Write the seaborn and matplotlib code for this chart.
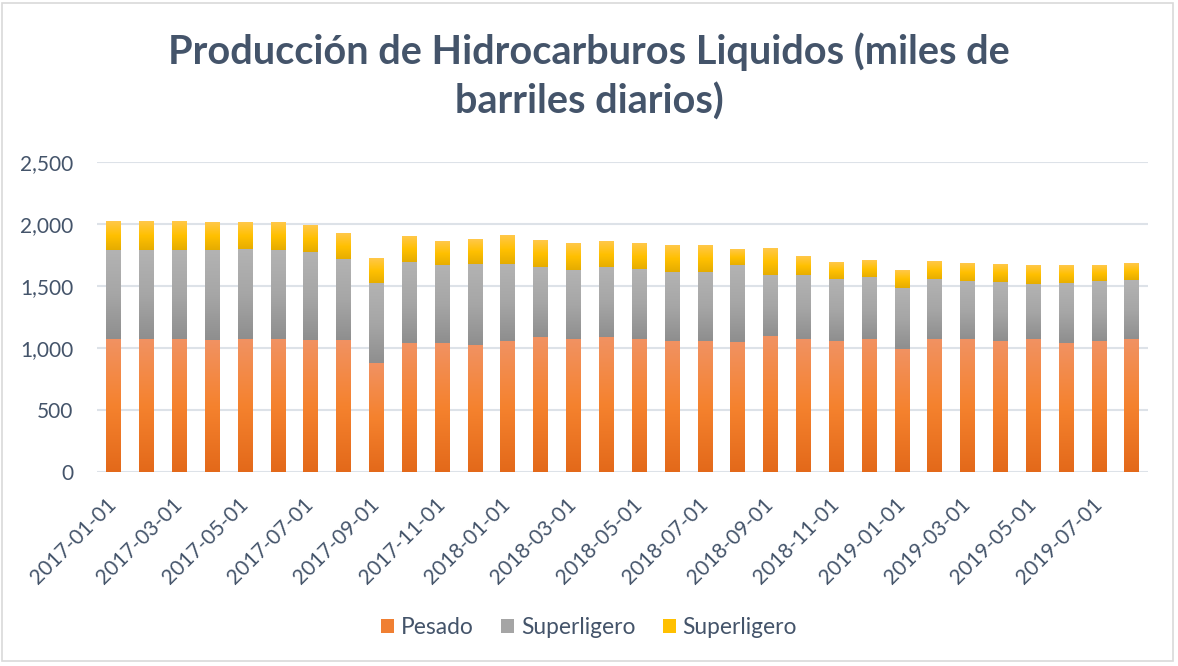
import numpy as np
import pandas as pd
import matplotlib
matplotlib.use("Agg")
import matplotlib.pyplot as plt
import seaborn as sns
from matplotlib.colors import LinearSegmentedColormap
from matplotlib.patches import Rectangle, Patch

# datos (miles de barriles diarios)
fechas = pd.date_range("2017-01-01", "2019-08-01", freq="MS").strftime("%Y-%m-%d").tolist()

pesado = [1071, 1066, 1066, 1058, 1071, 1071, 1058, 1058, 873, 1039,
          1039, 1018, 1055, 1082, 1066, 1082, 1071, 1055, 1055, 1047,
          1090, 1066, 1050, 1066, 991, 1066, 1066, 1050, 1071, 1039,
          1050, 1066]
superligero_gris = [716, 721, 721, 729, 721, 716, 713, 654, 647, 652,
                    625, 657, 620, 566, 561, 566, 561, 556, 556, 617,
                    494, 518, 502, 502, 491, 486, 470, 480, 443, 481,
                    486, 481]
superligero_amarillo = [230, 230, 230, 222, 225, 222, 214, 216, 208, 205,
                        200, 197, 229, 224, 213, 216, 216, 213, 213, 136,
                        224, 160, 144, 144, 142, 152, 152, 142, 150, 152,
                        136, 133]

nombres = ["Pesado", "Superligero", "Superligero"]
gradientes = [
    ["#F19262", "#F5822E", "#E3691A"],
    ["#B3B3B3", "#A6A6A6", "#8E8E8E"],
    ["#FFC84A", "#FFC000", "#E5AC00"],
]
colores_leyenda = ["#F07F32", "#A5A5A5", "#FFC000"]
texto = "#44546A"

df = pd.DataFrame({
    "fecha": fechas,
    "pesado": pesado,
    "gris": superligero_gris,
    "amarillo": superligero_amarillo,
})
df["nivel1"] = df["pesado"]
df["nivel2"] = df["nivel1"] + df["gris"]
df["nivel3"] = df["nivel2"] + df["amarillo"]

sns.set_style("white")
plt.rcParams["font.family"] = ["Lato", "DejaVu Sans"]

fig = plt.figure(figsize=(11.78, 6.66), dpi=100)
ax = fig.add_axes([0.0823, 0.2913, 0.8922, 0.4655])

# barras acumuladas, de la mas alta a la mas baja
capas = [("nivel3", "nivel2", 2), ("nivel2", "nivel1", 1), ("nivel1", None, 0)]
for z, (col_sup, col_inf, k) in enumerate(capas):
    antes = len(ax.patches)
    sns.barplot(data=df, x="fecha", y=col_sup, order=fechas, width=0.43,
                color=colores_leyenda[k], ax=ax, zorder=2 + z)
    nuevos = ax.patches[antes:]
    cmap = LinearSegmentedColormap.from_list("g%d" % k, gradientes[k][::-1])
    grad = np.linspace(0, 1, 256).reshape(-1, 1)
    for i, p in enumerate(nuevos):
        x0 = p.get_x()
        x1 = x0 + p.get_width()
        y1 = df[col_sup].iloc[i]
        y0 = 0 if col_inf is None else df[col_inf].iloc[i]
        ax.imshow(grad, extent=[x0, x1, y0, y1], origin="lower", cmap=cmap,
                  aspect="auto", zorder=2 + z, interpolation="bilinear")
        p.set_visible(False)

ax.set_xlim(-0.5, len(fechas) - 0.5)
ax.set_ylim(0, 2500)
ax.set_yticks([0, 500, 1000, 1500, 2000, 2500])
ax.set_yticklabels(["{:,}".format(v) for v in [0, 500, 1000, 1500, 2000, 2500]])
ax.yaxis.grid(True, color="#DDE2E8", lw=1.5)
ax.set_axisbelow(True)
ax.set_xlabel("")
ax.set_ylabel("")
for s in ax.spines.values():
    s.set_visible(False)

ax.set_xticks(range(0, len(fechas), 2))
ax.set_xticklabels(fechas[::2], rotation=45, ha="right", va="center",
                   rotation_mode="anchor")
ax.tick_params(axis="x", length=0, pad=21, labelsize=15, labelcolor=texto)
ax.tick_params(axis="y", length=0, pad=17, labelsize=15, labelcolor=texto)

fig.text(0.5, 1 - 76.5 / 666,
         "Producción de Hidrocarburos Liquidos (miles de\nbarriles diarios)",
         ha="center", va="center", fontsize=28.5, fontweight="bold", color=texto,
         linespacing=1.35)

handles = [Patch(facecolor=c, edgecolor="none") for c in colores_leyenda]
fig.legend(handles, nombres, loc="center", bbox_to_anchor=(0.5, 1 - 628 / 666),
           ncol=3, frameon=False, fontsize=16.4, labelcolor=texto,
           handlelength=0.57, handleheight=0.57, handletextpad=0.3,
           columnspacing=1.2)

fig.add_artist(Rectangle((0.002, 0.008), 0.994, 0.988, transform=fig.transFigure,
                         fill=False, edgecolor="#D9D9D9", lw=1.2))

fig.savefig("out.png", dpi=100)
